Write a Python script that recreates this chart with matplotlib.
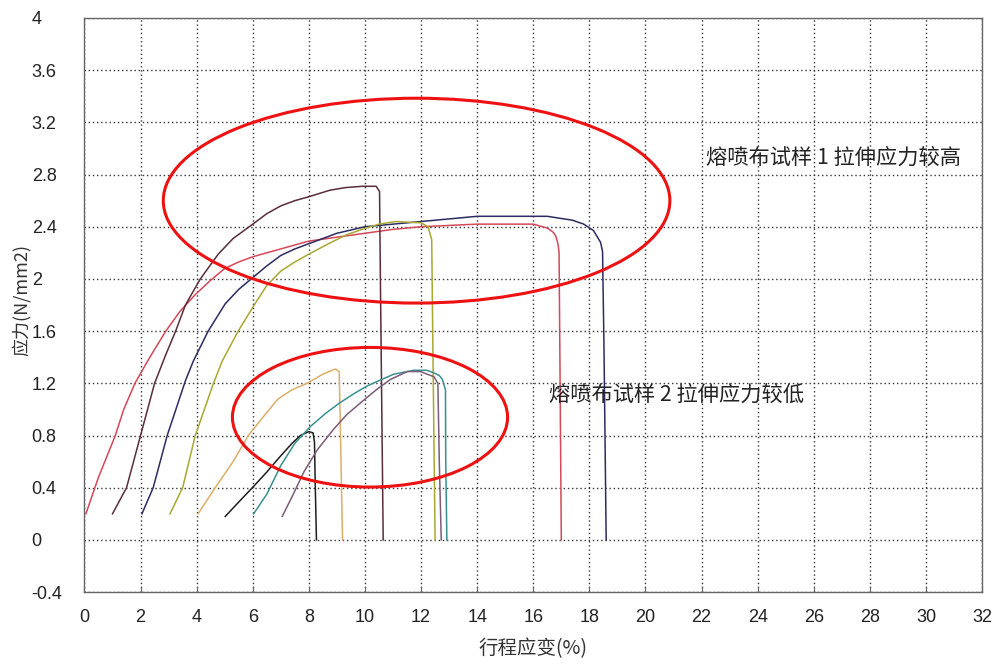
import matplotlib
matplotlib.use("Agg")
import matplotlib.pyplot as plt
from matplotlib.patches import Ellipse

# ---- data (strain %, stress N/mm2) ----
red_x = [0.05, 0.5, 1.1, 1.4, 1.8, 2.25, 2.5, 2.9, 3.4, 3.95, 4.5, 5.0, 5.5, 6.0, 6.5, 7.0, 8.0, 9.0, 10.0, 11.0, 12.0, 13.0,
         14.0, 15.0, 16.0, 16.5, 16.7, 16.8, 16.88, 16.92, 16.95, 17.0]
red_y = [0.2, 0.48, 0.8, 1.0, 1.2, 1.37, 1.46, 1.6, 1.75, 1.88, 1.99, 2.08, 2.13, 2.17, 2.2, 2.23, 2.29, 2.32, 2.35, 2.38, 2.4, 2.41,
         2.42, 2.42, 2.42, 2.39, 2.36, 2.33, 2.27, 2.2, 1.4, 0.0]

maroon_x = [1.0, 1.5, 2.0, 2.5, 2.9, 3.25, 3.6, 4.13, 4.77, 5.3, 6.0, 6.5, 7.0, 7.5, 8.0, 8.75, 9.3, 9.9, 10.4, 10.52, 10.55,
            10.6, 10.65]
maroon_y = [0.2, 0.4, 0.8, 1.2, 1.42, 1.6, 1.8, 2.0, 2.19, 2.31, 2.42, 2.5, 2.56, 2.6, 2.63, 2.68, 2.7, 2.71, 2.71, 2.67, 2.0,
            1.0, 0.0]

navy_x = [2.05, 2.45, 2.95, 3.6, 3.88, 4.41, 5.02, 5.5, 6.0, 6.5, 7.0, 7.5, 8.0, 9.0, 10.0, 11.0, 12.0, 13.0, 14.0, 15.0, 16.5,
          17.4, 17.8, 18.15, 18.4, 18.47, 18.52, 18.6]
navy_y = [0.2, 0.4, 0.8, 1.22, 1.37, 1.6, 1.81, 1.92, 2.01, 2.1, 2.18, 2.23, 2.27, 2.35, 2.4, 2.42, 2.44, 2.46, 2.48, 2.48, 2.48,
          2.45, 2.42, 2.37, 2.28, 2.21, 1.5, 0.0]

olive_x = [3.05, 3.5, 3.95, 4.6, 4.91, 5.48, 6.08, 6.5, 7.0, 7.5, 8.0, 8.7, 9.36, 9.9, 10.5, 11.1, 12.0, 12.25, 12.38, 12.42,
           12.5]
olive_y = [0.2, 0.4, 0.8, 1.2, 1.37, 1.6, 1.81, 1.95, 2.06, 2.13, 2.19, 2.27, 2.34, 2.38, 2.42, 2.44, 2.43, 2.4, 2.3, 1.5, 0.0]

tan_x = [4.05, 4.66, 5.3, 5.84, 6.4, 6.9, 7.4, 7.94, 8.5, 8.95, 9.08, 9.12, 9.2]
tan_y = [0.2, 0.4, 0.6, 0.8, 0.95, 1.08, 1.15, 1.2, 1.27, 1.31, 1.29, 0.9, 0.0]

black_x = [5.02, 5.5, 6.03, 6.5, 6.98, 7.4, 7.7, 8.0, 8.15, 8.2, 8.23, 8.27]
black_y = [0.18, 0.29, 0.41, 0.52, 0.64, 0.74, 0.8, 0.83, 0.82, 0.75, 0.4, 0.0]

teal_x = [6.03, 6.5, 7.0, 7.5, 8.06, 8.6, 9.1, 9.6, 10.08, 10.6, 11.03, 11.74, 12.2, 12.46, 12.65, 12.76, 12.87, 12.88, 12.92]
teal_y = [0.2, 0.35, 0.57, 0.74, 0.87, 0.97, 1.05, 1.12, 1.18, 1.23, 1.27, 1.3, 1.3, 1.28, 1.26, 1.23, 1.15, 0.6, 0.0]

purple_x = [7.05, 7.4, 7.82, 8.3, 8.89, 9.35, 9.84, 10.4, 10.91, 11.51, 11.98, 12.46, 12.6, 12.65, 12.72]
purple_y = [0.18, 0.33, 0.52, 0.69, 0.85, 0.96, 1.05, 1.15, 1.23, 1.29, 1.29, 1.25, 1.2, 0.6, 0.0]

x_ticks = list(range(0, 33, 2))
y_ticks = [-0.4, 0, 0.4, 0.8, 1.2, 1.6, 2, 2.4, 2.8, 3.2, 3.6, 4]
y_tick_labels = ["-0.4", "0", "0.4", "0.8", "1.2", "1.6", "2", "2.4", "2.8", "3.2", "3.6", "4"]

note1 = "熔喷布试样 1 拉伸应力较高"
note2 = "熔喷布试样 2 拉伸应力较低"
x_label = "行程应变(%)"
y_label = "应力(N/mm2)"

plt.rcParams['font.family'] = ['Liberation Sans', 'Noto Sans CJK SC', 'DejaVu Sans']

fig = plt.figure(figsize=(9.96, 6.66), dpi=100)
ax = fig.add_axes([0.0848, 0.111, 0.9012, 0.862])

series = [
    (red_x, red_y, '#d44858'),
    (maroon_x, maroon_y, '#5a2c3c'),
    (navy_x, navy_y, '#2c2c62'),
    (olive_x, olive_y, '#a8a832'),
    (tan_x, tan_y, '#dcae68'),
    (black_x, black_y, '#1e1e1e'),
    (teal_x, teal_y, '#3a9090'),
    (purple_x, purple_y, '#7c5c78'),
]
for xs, ys, c in series:
    ax.plot(xs, ys, color=c, lw=1.1, zorder=3)

ax.set_xlim(0, 32)
ax.set_ylim(-0.4, 4)
ax.set_xticks(x_ticks)
ax.set_xticklabels([str(v) for v in x_ticks], fontsize=13, color='#222222')
ax.set_yticks(y_ticks)
ax.set_yticklabels(y_tick_labels, fontsize=13, color='#222222')
for lab in ax.get_yticklabels():
    lab.set_horizontalalignment('left')
ax.tick_params(axis='y', length=0, pad=38)
ax.tick_params(axis='x', direction='in', length=4, width=0.8, color='#666666', pad=12)

ax.grid(True, color='#333333', linestyle=(0, (1, 2)), linewidth=1.0)
ax.set_axisbelow(True)
for s in ax.spines.values():
    s.set_color('#666666')
    s.set_linewidth(1.0)

# ellipses highlighting the two groups
ax.add_patch(Ellipse((11.84, 2.60), 18.06, 1.57, fill=False, edgecolor='#ee1111', lw=2.2, zorder=4))
ax.add_patch(Ellipse((10.18, 0.94), 9.81, 1.07, fill=False, edgecolor='#ee1111', lw=2.2, zorder=4))

ax.text(22.15, 2.93, note1, fontsize=15.3, va='center', ha='left', color='#222222',
        family=['Noto Sans CJK SC', 'DejaVu Sans'])
ax.text(16.55, 1.115, note2, fontsize=15.3, va='center', ha='left', color='#222222',
        family=['Noto Sans CJK SC', 'DejaVu Sans'])

ax.set_xlabel(x_label, fontsize=14, color='#333333', family=['Noto Sans CJK SC', 'DejaVu Sans'])
ax.xaxis.set_label_coords(0.4997, -0.080)
ax.set_ylabel(y_label, fontsize=13, color='#333333', family=['Noto Sans CJK SC', 'DejaVu Sans'])
ax.yaxis.set_label_coords(-0.060, 0.509)

fig.savefig('out.png', dpi=100)
